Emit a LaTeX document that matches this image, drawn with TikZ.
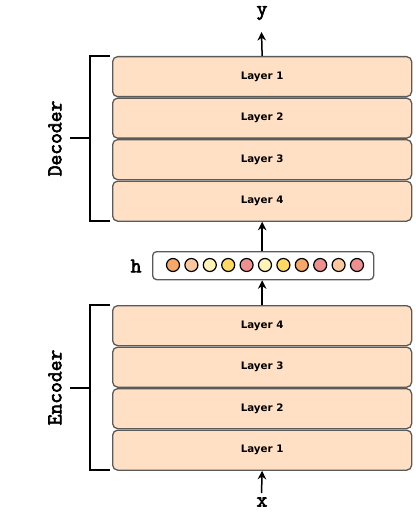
\documentclass[tikz,border=0pt]{standalone}
\usepackage{fontspec}
\setmainfont{DejaVu Sans}
\newfontfamily\codefont{Latin Modern Mono}[FakeBold=3]
\usetikzlibrary{arrows.meta}
\definecolor{layerfill}{HTML}{FFE0C4}
\definecolor{layerdraw}{HTML}{5A5A5A}
\definecolor{cOrange}{HTML}{F5A86A}
\definecolor{cPeach}{HTML}{F9C89E}
\definecolor{cLight}{HTML}{FFF3B8}
\definecolor{cYellow}{HTML}{FFD966}
\definecolor{cPink}{HTML}{EC9090}
\tikzset{
  layerbox/.style={draw=layerdraw, fill=layerfill, line width=1.3pt, rounded corners=5pt,
    minimum width=299pt, minimum height=40pt, inner sep=0pt, anchor=north west,
    font=\fontsize{10.3}{12}\selectfont\bfseries},
  hbox/.style={draw=layerdraw, fill=white, line width=1.3pt, rounded corners=4pt,
    minimum width=221pt, minimum height=28pt, inner sep=0pt, anchor=north west},
  unit/.style={circle, draw=black, line width=1.2pt, minimum size=13pt, inner sep=0pt},
  arr/.style={-{Stealth[length=8.5pt,width=8.5pt]}, line width=1.5pt},
  brk/.style={line width=2pt},
  codelabel/.style={font={\codefont\fontsize{21}{21}\selectfont}},
}
\begin{document}
\begin{tikzpicture}[x=1pt,y=-1pt]
\useasboundingbox (0,0) rectangle (415,513);
% decoder
\node[layerbox] (d1) at (112,56) {Layer 1};
\node[layerbox] (d2) at (112,97.5) {Layer 2};
\node[layerbox] (d3) at (112,139) {Layer 3};
\node[layerbox] (d4) at (112,180.5) {Layer 4};
% encoder
\node[layerbox] (e4) at (112,305) {Layer 4};
\node[layerbox] (e3) at (112,346.5) {Layer 3};
\node[layerbox] (e2) at (112,388) {Layer 2};
\node[layerbox] (e1) at (112,429.5) {Layer 1};
% hidden
\node[hbox] (h) at (152,251) {};
\foreach \c [count=\i] in {cOrange,cPeach,cLight,cYellow,cPink,cLight,cYellow,cOrange,cPink,cPeach,cPink}{
  \node[unit, fill=\c] (u\i) at (173+18.4*\i-18.4,265) {};
}
\node[codelabel, anchor=east] (hl) at (145,266) {h};
% labels
\node[codelabel] (y) at (262,13) {y};
\node[codelabel] (x) at (262,502) {x};
\coordinate (ytip) at (261.5,32);
\coordinate (xtail) at (261.5,493);
% arrows
\draw[arr] (d1.north) -- (ytip);
\draw[arr] (d4.south |- h.north) -- (d4.south);
\draw[arr] (e4.north) -- (d4.south |- h.south);
\draw[arr] (xtail) -- (e1.south);
% brackets
\coordinate (dtop) at (110,56);
\coordinate (dbot) at (110,221);
\coordinate (dmid) at (70,138.5);
\draw[brk] (dtop) -- (90,56) -- (90,221) -- (dbot);
\draw[brk] (dmid) -- (90,138.5);
\node[codelabel, rotate=90] (dec) at (55,138.5) {Decoder};
\coordinate (etop) at (110,305);
\coordinate (ebot) at (110,469.5);
\coordinate (emid) at (70,387.5);
\draw[brk] (etop) -- (90,305) -- (90,469.5) -- (ebot);
\draw[brk] (emid) -- (90,387.5);
\node[codelabel, rotate=90] (enc) at (55,387.5) {Encoder};
\end{tikzpicture}
\end{document}
